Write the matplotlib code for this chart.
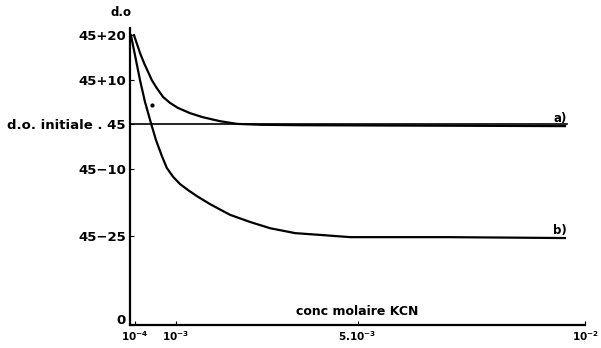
import matplotlib
matplotlib.use('Agg')
import matplotlib.pyplot as plt
import matplotlib.transforms as mtransforms

# curve a (KCN alone) and curve b
conc_a = [0.000088, 0.000154, 0.00022, 0.00031, 0.0004, 0.00048, 0.00059, 0.00073,
          0.00088, 0.00105, 0.00132, 0.0016, 0.00198, 0.00235, 0.00286, 0.00374, 0.00956]
do_a = [65.0, 63.0, 61.0, 58.7, 56.7, 54.9, 53.1, 51.1,
        49.8, 48.7, 47.5, 46.6, 45.7, 45.1, 44.9, 44.8, 44.6]

conc_b = [0.00002, 0.00011, 0.00022, 0.00033, 0.00046, 0.00057, 0.0007, 0.00081,
          0.00095, 0.0011, 0.00127, 0.00147, 0.00176, 0.0022, 0.00264, 0.00308,
          0.00363, 0.00418, 0.00484, 0.0070, 0.00956]
do_b = [65.0, 60.5, 54.9, 50.0, 45.3, 41.5, 37.9, 35.2,
        33.2, 31.6, 30.3, 28.9, 27.1, 24.7, 23.1, 21.7,
        20.6, 20.2, 19.7, 19.7, 19.5]

point_x = [0.00048]
point_y = [49.3]

do_initial = 45
line_end = 0.0096

ytick_vals = [0, 20, 35, 45, 55, 65]
ytick_labels = ['0', '45\u221225', '45\u221210', 'd.o. initiale . 45', '45+10', '45+20']
xtick_vals = [0.0001, 0.001, 0.005, 0.01]
xtick_labels = [r'$\mathbf{10^{-4}}$', r'$\mathbf{10^{-3}}$', r'$\mathbf{5.10^{-3}}$', r'$\mathbf{10^{-2}}$']

plt.rcParams.update({'font.family': 'DejaVu Sans', 'font.weight': 'bold'})

fig = plt.figure(figsize=(6.01, 3.48), dpi=100)
ax = fig.add_axes([130/601, 23/348, 455/601, 297/348])

ax.plot(conc_a, do_a, 'k-', lw=1.6)
ax.plot(conc_b, do_b, 'k-', lw=1.6)
ax.plot([0, line_end], [do_initial, do_initial], 'k-', lw=1.2)
ax.plot(point_x, point_y, 'ko', ms=2)

ax.set_xlim(0, 0.01)
ax.set_ylim(0, 66.6)
ax.spines['top'].set_visible(False)
ax.spines['right'].set_visible(False)
ax.spines['left'].set_linewidth(1.6)
ax.spines['bottom'].set_linewidth(1.6)

ax.set_yticks(ytick_vals)
ax.set_yticklabels(ytick_labels, fontsize=9.5, fontweight='bold')
ax.set_xticks(xtick_vals)
ax.set_xticklabels(xtick_labels, fontsize=7.5)
ax.tick_params(axis='y', direction='in', length=3, pad=3)
ax.tick_params(axis='x', direction='in', length=3, pad=3)

# lift the "0" label a little so it clears the 10^-4 label, as in the scan
zero_lbl = ax.get_yticklabels()[0]
zero_lbl.set_transform(zero_lbl.get_transform() +
                       mtransforms.ScaledTranslation(0, 4/72, fig.dpi_scale_trans))

ax.text(-0.0002, 68.6, 'd.o', ha='center', va='bottom', fontsize=8.5, fontweight='bold', clip_on=False)
ax.text(0.0050, 1.5, 'conc molaire KCN', ha='center', va='bottom', fontsize=9, fontweight='bold')
ax.text(0.0093, 44.8, 'a)', ha='left', va='bottom', fontsize=8.5, fontweight='bold')
ax.text(0.0093, 19.8, 'b)', ha='left', va='bottom', fontsize=8.5, fontweight='bold')

fig.savefig('out.png', dpi=100)
